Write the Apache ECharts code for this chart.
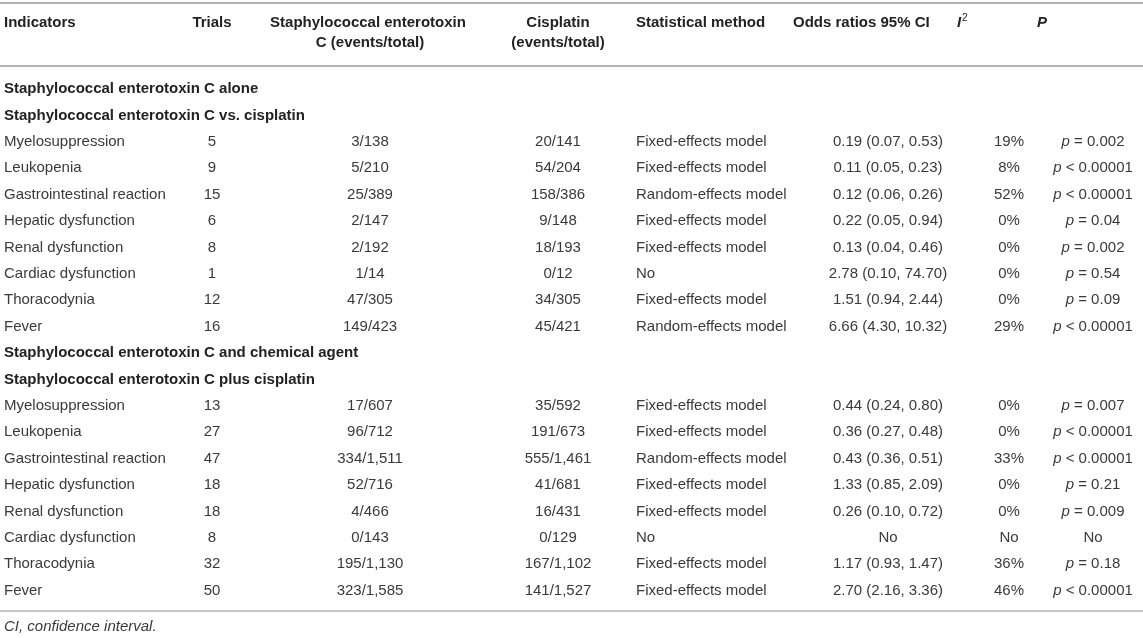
<!DOCTYPE html>
<html>
<head>
<meta charset="utf-8">
<script src="https://cdn.jsdelivr.net/npm/echarts@6/dist/echarts.min.js"></script>
<style>
html, body { margin: 0; padding: 0; background: #fff; }
#chart { width: 1143px; height: 638px; }
</style>
</head>
<body>
<div id="chart"></div>
<script>
// Table text
const headerLine1 = ['Indicators', 'Trials', 'Staphylococcal enterotoxin', 'Cisplatin', 'Statistical method', 'Odds ratios 95% CI', 'I', 'P'];
const headerLine2 = ['', '', 'C (events/total)', '(events/total)', '', '', '', ''];
const sectionTitles = [
    'Staphylococcal enterotoxin C alone',
    'Staphylococcal enterotoxin C vs. cisplatin',
    'Staphylococcal enterotoxin C and chemical agent',
    'Staphylococcal enterotoxin C plus cisplatin'
];
const indicators = ['Myelosuppression', 'Leukopenia', 'Gastrointestinal reaction', 'Hepatic dysfunction',
    'Renal dysfunction', 'Cardiac dysfunction', 'Thoracodynia', 'Fever'];
const footnote = 'CI, confidence interval.';

// SEC alone vs. cisplatin
const trials1 = [5, 9, 15, 6, 8, 1, 12, 16];
const secEvents1 = ['3/138', '5/210', '25/389', '2/147', '2/192', '1/14', '47/305', '149/423'];
const cisEvents1 = ['20/141', '54/204', '158/386', '9/148', '18/193', '0/12', '34/305', '45/421'];
const method1 = ['Fixed-effects model', 'Fixed-effects model', 'Random-effects model', 'Fixed-effects model',
    'Fixed-effects model', 'No', 'Fixed-effects model', 'Random-effects model'];
const oddsCI1 = ['0.19 (0.07, 0.53)', '0.11 (0.05, 0.23)', '0.12 (0.06, 0.26)', '0.22 (0.05, 0.94)',
    '0.13 (0.04, 0.46)', '2.78 (0.10, 74.70)', '1.51 (0.94, 2.44)', '6.66 (4.30, 10.32)'];
const iSquared1 = ['19%', '8%', '52%', '0%', '0%', '0%', '0%', '29%'];
const pValues1 = ['p = 0.002', 'p < 0.00001', 'p < 0.00001', 'p = 0.04', 'p = 0.002', 'p = 0.54', 'p = 0.09', 'p < 0.00001'];

// SEC plus cisplatin
const trials2 = [13, 27, 47, 18, 18, 8, 32, 50];
const secEvents2 = ['17/607', '96/712', '334/1,511', '52/716', '4/466', '0/143', '195/1,130', '323/1,585'];
const cisEvents2 = ['35/592', '191/673', '555/1,461', '41/681', '16/431', '0/129', '167/1,102', '141/1,527'];
const method2 = ['Fixed-effects model', 'Fixed-effects model', 'Random-effects model', 'Fixed-effects model',
    'Fixed-effects model', 'No', 'Fixed-effects model', 'Fixed-effects model'];
const oddsCI2 = ['0.44 (0.24, 0.80)', '0.36 (0.27, 0.48)', '0.43 (0.36, 0.51)', '1.33 (0.85, 2.09)',
    '0.26 (0.10, 0.72)', 'No', '1.17 (0.93, 1.47)', '2.70 (2.16, 3.36)'];
const iSquared2 = ['0%', '0%', '33%', '0%', '0%', 'No', '36%', '46%'];
const pValues2 = ['p = 0.007', 'p < 0.00001', 'p < 0.00001', 'p = 0.21', 'p = 0.009', 'No', 'p = 0.18', 'p < 0.00001'];

// Layout
const FONT = '"Liberation Sans", Arial, Helvetica, sans-serif';
const TEXT_COLOR = '#3a3a3a';
const BOLD_COLOR = '#222222';
const RULE_COLOR = '#b4b4b4';
const colX = [4, 212, 370, 558, 636, 888, 1009, 1093];
const colAlign = ['left', 'center', 'center', 'center', 'left', 'center', 'center', 'center'];
const headX = [4, 212, 368, 558, 636, 793, 957, 1037];
const headAlign = ['left', 'center', 'center', 'center', 'left', 'left', 'left', 'left'];

function groupRows(t, s, c, m, o, i2, p) {
    return indicators.map((name, i) => ({ cells: [name, String(t[i]), s[i], c[i], m[i], o[i], i2[i], p[i]] }));
}

const rows = [
    { section: sectionTitles[0] },
    { section: sectionTitles[1] },
    ...groupRows(trials1, secEvents1, cisEvents1, method1, oddsCI1, iSquared1, pValues1),
    { section: sectionTitles[2] },
    { section: sectionTitles[3] },
    ...groupRows(trials2, secEvents2, cisEvents2, method2, oddsCI2, iSquared2, pValues2)
];

// One item per table cell
const cellItems = [];
rows.forEach((row, r) => {
    if (row.section) {
        cellItems.push({ value: [colX[0], r], text: row.section, align: 'left', bold: true });
    } else {
        row.cells.forEach((txt, c) => {
            let t = txt;
            if (c === 7 && txt.charAt(0) === 'p') t = '{it|p}' + txt.slice(1);
            cellItems.push({ value: [colX[c], r], text: t, align: colAlign[c], bold: false });
        });
    }
});

const chartDom = document.getElementById('chart');
const myChart = echarts.init(chartDom);

const graphics = [];
// rules
[[3, 2], [66, 2], [611, 1.5]].forEach(function (l) {
    graphics.push({
        type: 'line',
        shape: { x1: 0, y1: l[0], x2: 1143, y2: l[0] },
        style: { stroke: RULE_COLOR, lineWidth: l[1] },
        silent: true
    });
});
// header
headerLine1.forEach(function (txt, c) {
    const italic = (c >= 6);
    graphics.push({
        type: 'text', x: headX[c], y: 23,
        style: {
            text: txt, fill: BOLD_COLOR, fontFamily: FONT, fontSize: 15,
            fontWeight: 'bold', fontStyle: italic ? 'italic' : 'normal',
            align: headAlign[c], verticalAlign: 'middle'
        }
    });
    if (headerLine2[c]) {
        graphics.push({
            type: 'text', x: c === 2 ? 370 : headX[c], y: 43,
            style: {
                text: headerLine2[c], fill: BOLD_COLOR, fontFamily: FONT, fontSize: 15,
                fontWeight: 'bold', align: headAlign[c], verticalAlign: 'middle'
            }
        });
    }
});
// superscript of I2
graphics.push({
    type: 'text', x: headX[6] + 5, y: 18,
    style: { text: '2', fill: BOLD_COLOR, fontFamily: FONT, fontSize: 10, align: 'left', verticalAlign: 'middle' }
});
// footnote
graphics.push({
    type: 'text', x: 4, y: 627,
    style: { text: footnote, fill: TEXT_COLOR, fontFamily: FONT, fontSize: 15, fontStyle: 'italic', align: 'left', verticalAlign: 'middle' }
});

const option = {
    backgroundColor: '#ffffff',
    animation: false,
    grid: { left: 0, right: 0, top: 75.8, bottom: 34.2 },
    xAxis: { type: 'value', min: 0, max: 1143, show: false },
    yAxis: {
        type: 'category',
        data: rows.map((r, i) => String(i)),
        inverse: true,
        show: false
    },
    graphic: graphics,
    series: [{
        type: 'custom',
        coordinateSystem: 'cartesian2d',
        encode: { x: 0, y: 1 },
        data: cellItems.map(d => d.value),
        renderItem: function (params, api) {
            const item = cellItems[params.dataIndex];
            const pt = api.coord([api.value(0), api.value(1)]);
            return {
                type: 'text',
                x: pt[0],
                y: pt[1],
                style: {
                    text: item.text,
                    fill: item.bold ? BOLD_COLOR : TEXT_COLOR,
                    fontFamily: FONT,
                    fontSize: 15,
                    fontWeight: item.bold ? 'bold' : 'normal',
                    align: item.align,
                    verticalAlign: 'middle',
                    rich: {
                        it: { fontStyle: 'italic', fontFamily: FONT, fontSize: 15, fill: TEXT_COLOR }
                    }
                }
            };
        }
    }]
};

myChart.setOption(option);

window.addEventListener('resize', function () {
    myChart.resize();
});
</script>
</body>
</html>
